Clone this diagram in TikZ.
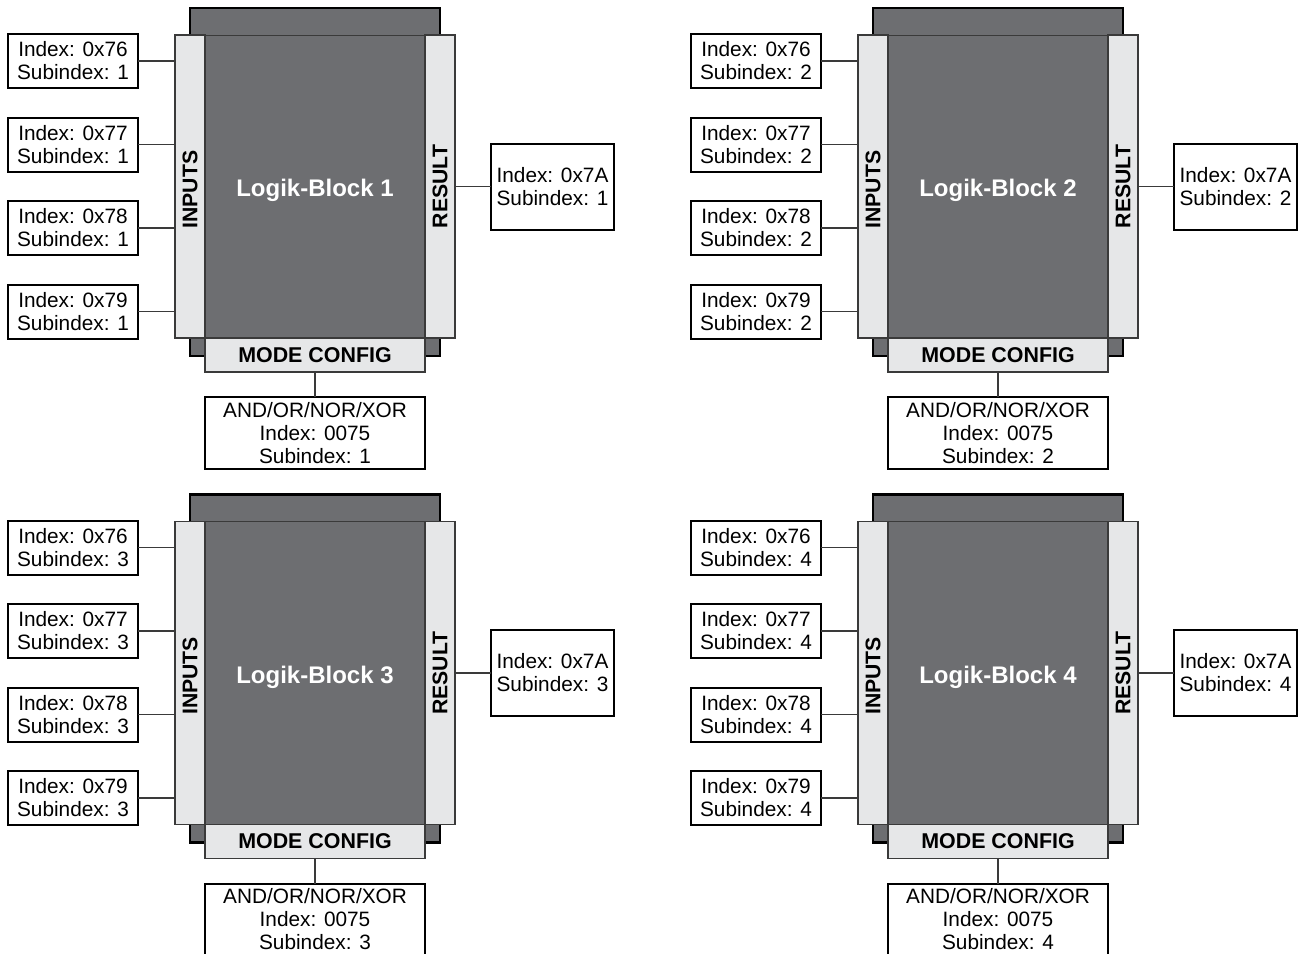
\documentclass[tikz,border=0pt]{standalone}
\usepackage{fontspec}
\setmainfont{Liberation Sans}
\usepackage{tikz}
\usetikzlibrary{positioning,calc}

\definecolor{blockgray}{HTML}{6D6E71}
\definecolor{stripgray}{HTML}{E6E7E8}
\definecolor{edgegray}{HTML}{3A3A3A}

\tikzset{
    outerblock/.style={draw=black, line width=1.2pt, fill=blockgray, inner sep=0pt, outer sep=0pt,
        minimum width=125pt, minimum height=174pt},
    logicbody/.style={draw=edgegray, line width=0.4pt, fill=blockgray, inner sep=0pt, outer sep=0pt,
        minimum width=110pt, minimum height=151.5pt, text=white, font=\fontsize{12}{14}\selectfont\bfseries},
    sidestrip/.style={draw=edgegray, line width=0.6pt, fill=stripgray, inner sep=0pt, outer sep=0pt,
        minimum width=15pt, minimum height=151.5pt, font=\fontsize{10.6}{12}\selectfont\bfseries},
    modestrip/.style={draw=edgegray, line width=0.6pt, fill=stripgray, inner sep=0pt, outer sep=0pt,
        minimum width=110pt, minimum height=17pt, font=\fontsize{10.7}{12}\selectfont\bfseries},
    parambox/.style={draw=black, line width=1pt, fill=white, inner sep=0pt, outer sep=0pt,
        align=center, font=\fontsize{10.4}{11.5}\selectfont},
    link/.style={draw=edgegray, line width=0.6pt}
}

\begin{document}
\begin{tikzpicture}[x=0.5pt, y=-0.5pt]
\useasboundingbox (0,0) rectangle (1300,953);

% four logic blocks, two per row
\foreach \b/\dx/\dy in {1/0/0, 2/683/0, 3/0/486.5, 4/683/486.5} {
\begin{scope}[shift={(\dx,\dy)}]
    % block body with side strips
    \node[outerblock] (outer\b) at (315,182) {};
    \node[logicbody] (logic\b) at (315,186.5) {\rule{0pt}{13pt}Logik-Block \b};
    \node[sidestrip] (inp\b) at (190,186.5) {\rotatebox{90}{\hspace{-3pt}INPUTS}};
    \node[sidestrip] (res\b) at (440,186.5) {\rotatebox{90}{RESULT}};
    \node[modestrip] (mode\b) at (315,355) {MODE CONFIG};

    % input parameters
    \foreach \i/\idx/\y in {1/76/61, 2/77/144.5, 3/78/228, 4/79/311.5} {
        \node[parambox, minimum width=65pt, minimum height=27pt] (in\b-\i) at (73,\y)
            {Index: 0x\idx\\Subindex: \b};
        \draw[link] (in\b-\i.east) -- (in\b-\i.east -| inp\b.west);
    }

    % result parameter
    \node[parambox, minimum width=61.5pt, minimum height=43pt] (rbox\b) at (552.5,186.5)
        {Index: 0x7A\\Subindex: \b};
    \draw[link] (res\b.east) -- (rbox\b.west);

    % mode parameter
    \node[parambox, minimum width=110pt, minimum height=36pt] (cfg\b) at (315,433)
        {AND/OR/NOR/XOR\\Index: 0075\\Subindex: \b};
    \draw[link] (mode\b.south) -- (cfg\b.north);
\end{scope}
}

\end{tikzpicture}
\end{document}
